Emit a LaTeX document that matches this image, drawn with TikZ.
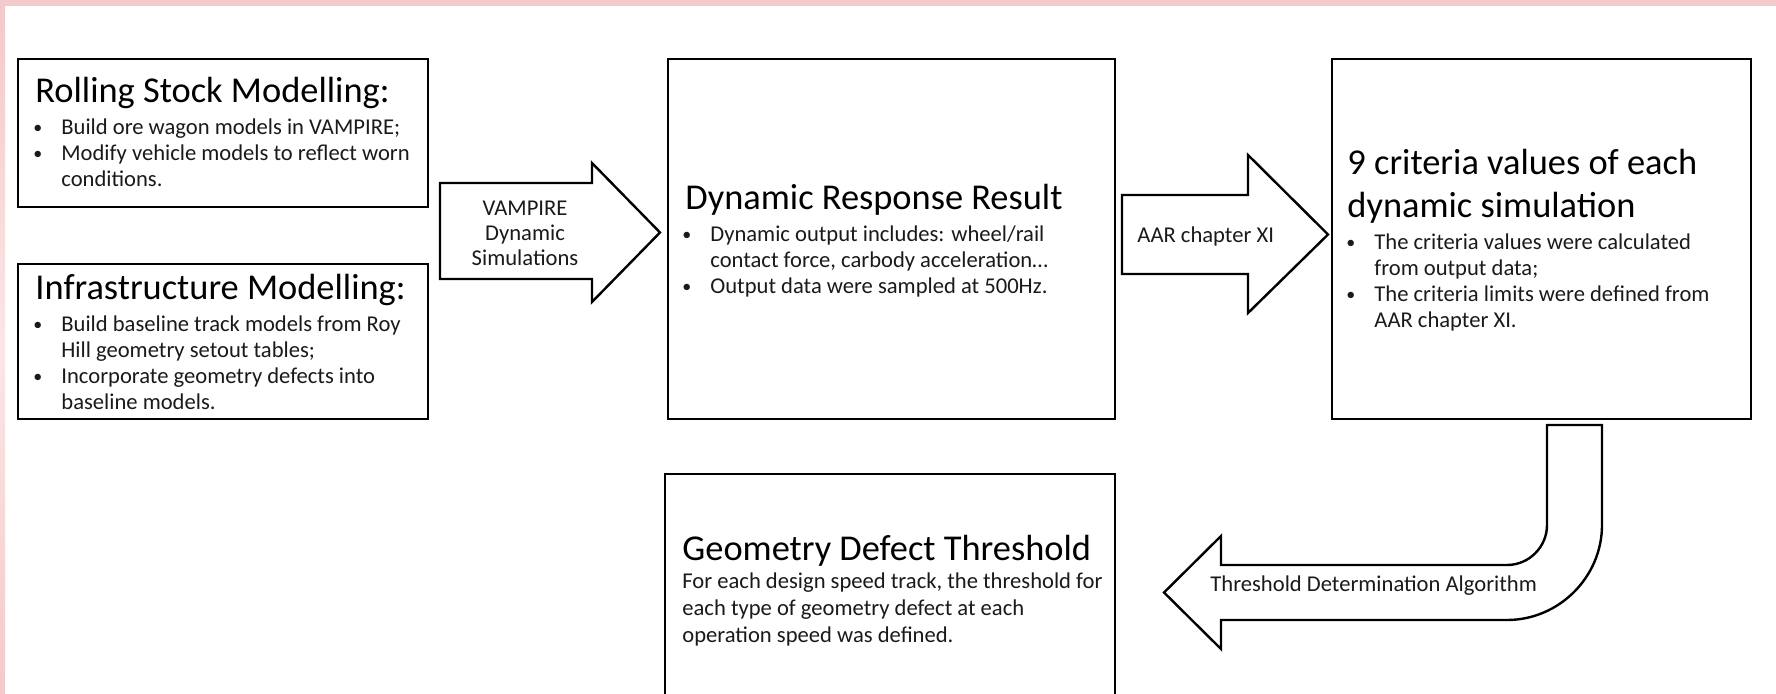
\documentclass[tikz,border=0pt]{standalone}
\usepackage{fontspec}
\setmainfont{Carlito}
\usepackage{array}
\definecolor{pinkband}{HTML}{F4C9C9}
\definecolor{pinklight}{HTML}{FBE6E6}
\definecolor{txt}{HTML}{1A1A1A}
\newcommand{\ttlfont}{\fontsize{18.2}{21.5}\selectfont}
\newcommand{\bulfont}{\fontsize{11.3}{13}\selectfont}
\newcommand{\bp}{\raisebox{0.6pt}{\fontsize{9}{9}\selectfont\textbullet}}
\tikzset{
  box/.style={draw=black, line width=1.2pt, fill=white, anchor=north west, inner sep=0pt},
  ttl/.style={anchor=base west, inner sep=0pt, font=\ttlfont, text=black},
  bul/.style={anchor=base west, inner sep=0pt, font=\bulfont, text=txt},
  blockarrow/.style={draw=black, line width=1.2pt, fill=white, line join=miter},
  alabel/.style={inner sep=0pt, font=\bulfont, text=txt}
}
\begin{document}
\begin{tikzpicture}[x=0.5pt,y=-0.5pt]
\useasboundingbox (0,0) rectangle (1776,694);
\clip (0,0) rectangle (1776,694);
% pink frame
\fill[pinkband] (0,0) rectangle (1776,6);
\shade[top color=pinkband, bottom color=pinklight] (0,6) rectangle (5,350);
\shade[top color=pinklight, bottom color=pinkband] (0,350) rectangle (5,694);

% boxes
\node[box, minimum width=205pt, minimum height=74pt] (rs) at (17,58) {};
\node[box, minimum width=205pt, minimum height=77.5pt] (inf) at (17,263) {};
\node[box, minimum width=223.5pt, minimum height=180pt] (dyn) at (667,58) {};
\node[box, minimum width=209.5pt, minimum height=180pt] (crit) at (1331,58) {};
\node[box, minimum width=225pt, minimum height=140pt] (geo) at (664,473) {};

% texts
\node[ttl] (rsT) at (35,103) {Rolling Stock Modelling:};
\node[bul] (rsB) at (33,135) {\begin{tabular}[t]{@{}p{14pt}@{}l@{}}
\bp & Build ore wagon models in VAMPIRE;\\
\bp & Modify vehicle models to reflect worn\\
 & conditions.
\end{tabular}};

\node[ttl] (infT) at (35,300) {Infrastructure Modelling:};
\node[bul] (infB) at (33,332) {\begin{tabular}[t]{@{}p{14pt}@{}l@{}}
\bp & Build baseline track models from Roy\\
 & Hill geometry setout tables;\\
\bp & Incorporate geometry defects into\\
 & baseline models.
\end{tabular}};

\node[ttl] (dynT) at (685,210) {Dynamic Response Result};
\node[bul] (dynB) at (682,242) {\begin{tabular}[t]{@{}p{14pt}@{}l@{}}
\bp & Dynamic output includes: wheel/rail\\
 & contact force, carbody acceleration…\\
\bp & Output data were sampled at 500Hz.
\end{tabular}};

\node[ttl, align=left] (critT) at (1347,218) {9 criteria values of each\\dynamic simulation};
\node[bul] (critB) at (1346,250) {\begin{tabular}[t]{@{}p{14pt}@{}l@{}}
\bp & The criteria values were calculated\\
 & from output data;\\
\bp & The criteria limits were defined from\\
 & AAR chapter XI.
\end{tabular}};

\node[ttl] (geoT) at (682,560) {Geometry Defect Threshold};
\node[bul, align=left, font=\fontsize{11.3}{13.5}\selectfont] (geoB) at (682,642) {For each design speed track, the threshold for\\each type of geometry defect at each\\operation speed was defined.};

% block arrows
\draw[blockarrow] (440,183) -- (592,183) -- (592,163) -- (660,232.5) -- (592,302) -- (592,279) -- (440,279) -- cycle;
\node[alabel, align=center, font=\fontsize{11.3}{12.5}\selectfont] (a1) at (525,233) {VAMPIRE\\Dynamic\\Simulations};

\draw[blockarrow] (1122,195) -- (1248,195) -- (1248,155) -- (1328,234.5) -- (1248,313) -- (1248,274) -- (1122,274) -- cycle;
\node[alabel, anchor=west] (a2) at (1137,236) {AAR chapter XI};

\draw[blockarrow] (1547,425) -- (1602,425) -- (1602,525)
  .. controls (1602,577) and (1559,620) .. (1507,620)
  -- (1221,620) -- (1221,649) -- (1164,592.5) -- (1221,536) -- (1221,565)
  -- (1507,565) .. controls (1529,565) and (1547,547) .. (1547,525) -- cycle;
\node[alabel, anchor=west] (a3) at (1210,586) {Threshold Determination Algorithm};
\end{tikzpicture}
\end{document}
